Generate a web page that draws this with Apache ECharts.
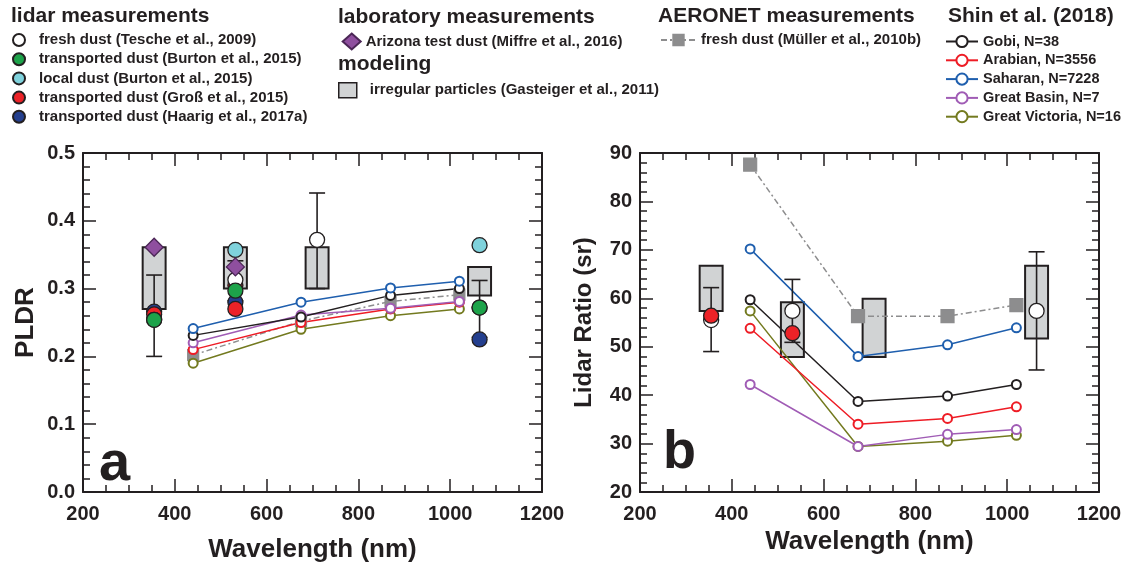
<!DOCTYPE html>
<html>
<head>
<meta charset="utf-8">
<script src="https://cdn.jsdelivr.net/npm/echarts@6/dist/echarts.min.js"></script>
<style>
html,body{margin:0;padding:0;background:#fff;}
#chart{width:1126px;height:565px;}
</style>
</head>
<body>
<div id="chart"></div>
<script>
// ---------------- DATA ----------------
// Shin et al. (2018) AERONET wavelengths
const shinWl = [440, 675, 870, 1020];
// PLDR (panel a)
const gobiPLDR = [0.231, 0.258, 0.290, 0.300];
const arabianPLDR = [0.210, 0.250, 0.270, 0.280];
const saharanPLDR = [0.241, 0.280, 0.301, 0.311];
const greatBasinPLDR = [0.220, 0.261, 0.271, 0.281];
const greatVictoriaPLDR = [0.190, 0.240, 0.260, 0.270];
// Lidar ratio (panel b)
const gobiLR = [59.7, 38.7, 39.8, 42.2];
const arabianLR = [53.8, 34.0, 35.2, 37.6];
const saharanLR = [70.2, 48.0, 50.4, 53.9];
const greatBasinLR = [42.2, 29.4, 31.9, 32.9];
const greatVictoriaLR = [57.4, 29.4, 30.5, 31.7];
// AERONET fresh dust (Müller et al., 2010b)
const muellerWl = [440, 675, 870, 1020];
const muellerPLDR = [0.202, 0.252, 0.281, 0.291];
const muellerLR = [87.6, 56.3, 56.3, 58.6];
// Modeling: irregular particles (Gasteiger et al., 2011) ranges
const gasteigerWl = [355, 532, 710, 1064];
const gasteigerPLDRlow = [0.270, 0.300, 0.300, 0.290];
const gasteigerPLDRhigh = [0.361, 0.361, 0.361, 0.332];
const gasteigerLRlow = [57.4, 47.9, 47.9, 51.7];
const gasteigerLRhigh = [66.7, 59.2, 59.9, 66.7];
// Lidar: fresh dust (Tesche et al., 2009)
const tescheWlA = [355, 532, 710, 1064];
const teschePLDR = [0.254, 0.313, 0.372, 0.272];
const teschePLDRlow = [0.200, 0.282, 0.300, 0.228];
const teschePLDRhigh = [0.320, 0.341, 0.441, 0.312];
const tescheWlB = [355, 532, 1064];
const tescheLR = [55.5, 57.4, 57.4];
const tescheLRlow = [49.0, 50.9, 45.2];
const tescheLRhigh = [62.2, 63.9, 69.6];
// Lidar: transported dust (Burton et al., 2015)
const burtonTrWl = [355, 532, 1064];
const burtonTrPLDR = [0.254, 0.297, 0.272];
// Lidar: local dust (Burton et al., 2015)
const burtonLocWl = [532, 1064];
const burtonLocPLDR = [0.357, 0.364];
// Lidar: transported dust (Groß et al., 2015)
const grossWlA = [355, 532, 532];
const grossPLDR = [0.262, 0.305, 0.270];
const grossWlB = [355, 532];
const grossLR = [56.4, 52.8];
// Lidar: transported dust (Haarig et al., 2017a)
const haarigWl = [355, 532, 1064];
const haarigPLDR = [0.266, 0.280, 0.225];
// Laboratory: Arizona test dust (Miffre et al., 2016)
const miffreWl = [355, 532];
const miffrePLDR = [0.361, 0.332];

// axis tick labels
const xTicks = [200, 400, 600, 800, 1000, 1200];
const pldrTicks = [0.0, 0.1, 0.2, 0.3, 0.4, 0.5];
const lrTicks = [20, 30, 40, 50, 60, 70, 80, 90];

// ---------------- NAMES / COLORS ----------------
const N = {
  tesche: 'fresh dust (Tesche et al., 2009)',
  burtonTr: 'transported dust (Burton et al., 2015)',
  burtonLoc: 'local dust (Burton et al., 2015)',
  gross: 'transported dust (Groß et al., 2015)',
  haarig: 'transported dust (Haarig et al., 2017a)',
  miffre: 'Arizona test dust (Miffre et al., 2016)',
  gasteiger: 'irregular particles (Gasteiger et al., 2011)',
  mueller: 'fresh dust (Müller et al., 2010b)',
  gobi: 'Gobi, N=38',
  arabian: 'Arabian, N=3556',
  saharan: 'Saharan, N=7228',
  basin: 'Great Basin, N=7',
  victoria: 'Great Victoria, N=16'
};
const INK = '#231f20';
const C = {
  green: '#1da34a', teal: '#7fd2dc', red: '#ec2227', navy: '#243f8e', purple: '#8f4f9f',
  box: '#d1d3d4', grey: '#8d8d8e',
  sBlack: '#231f20', sRed: '#ee1c25', sBlue: '#1f5fae', sPurple: '#a05cb5', sOlive: '#737a1f'
};
const FONT = '"Liberation Sans", Arial, Helvetica, sans-serif';

function zip(xs, ys) { return xs.map((x, i) => [x, ys[i]]); }
function zip3(xs, a, b) { return xs.map((x, i) => [x, a[i], b[i]]); }

const BOX_HALF = 25;
function boxRender(params, api) {
  const x = api.value(0), lo = api.value(1), hi = api.value(2);
  const p1 = api.coord([x - BOX_HALF, hi]);
  const p2 = api.coord([x + BOX_HALF, lo]);
  return {
    type: 'rect',
    shape: { x: p1[0], y: p1[1], width: p2[0] - p1[0], height: p2[1] - p1[1] },
    style: { fill: C.box, stroke: INK, lineWidth: 2 }
  };
}
function errRender(params, api) {
  const x = api.value(0), lo = api.value(1), hi = api.value(2);
  const t = api.coord([x, hi]), b = api.coord([x, lo]);
  const w = 8;
  const st = { stroke: INK, lineWidth: 1.6 };
  return {
    type: 'group',
    children: [
      { type: 'line', shape: { x1: t[0], y1: t[1], x2: b[0], y2: b[1] }, style: st },
      { type: 'line', shape: { x1: t[0] - w, y1: t[1], x2: t[0] + w, y2: t[1] }, style: st },
      { type: 'line', shape: { x1: b[0] - w, y1: b[1], x2: b[0] + w, y2: b[1] }, style: st }
    ]
  };
}

// ---------------- AXES ----------------
const tickStyle = { color: INK, width: 1.5 };
function xAx(gi, pos, showLab, name, nameGap) {
  return {
    type: 'value', gridIndex: gi, position: pos, min: 200, max: 1200, interval: 200,
    splitLine: { show: false },
    axisLine: { show: true, onZero: false, lineStyle: { color: INK, width: 2 } },
    axisTick: { show: true, inside: true, length: 13, lineStyle: tickStyle },
    minorTick: { show: true, splitNumber: 4, length: 7, lineStyle: tickStyle },
    axisLabel: {
      show: showLab, margin: 12, color: INK, fontSize: 20, fontWeight: 'bold', fontFamily: FONT,
      showMinLabel: true, showMaxLabel: true,
      formatter: v => xTicks.includes(v) ? String(v) : ''
    },
    name: name || '', nameLocation: 'middle', nameGap: nameGap || 0,
    nameTextStyle: { color: INK, fontSize: 26, fontWeight: 'bold', fontFamily: FONT }
  };
}
function yAx(gi, pos, showLab, min, max, interval, fmt, name, nameGap, nameSize) {
  return {
    type: 'value', gridIndex: gi, position: pos, min: min, max: max, interval: interval,
    splitLine: { show: false },
    axisLine: { show: true, onZero: false, lineStyle: { color: INK, width: 2 } },
    axisTick: { show: true, inside: true, length: 13, lineStyle: tickStyle },
    minorTick: { show: true, splitNumber: 5, length: 7, lineStyle: tickStyle },
    axisLabel: {
      show: showLab, margin: 8, color: INK, fontSize: 20, fontWeight: 'bold', fontFamily: FONT,
      showMinLabel: true, showMaxLabel: true, formatter: fmt
    },
    name: name || '', nameLocation: 'middle', nameGap: nameGap || 0, nameRotate: 90,
    nameTextStyle: { color: INK, fontSize: nameSize || 26, fontWeight: 'bold', fontFamily: FONT }
  };
}

// ---------------- SERIES ----------------
const series = [];
function addBox(gi, name, data) {
  series.push({ type: 'custom', name: name, xAxisIndex: gi * 2, yAxisIndex: gi * 2,
    renderItem: boxRender, data: data, z: 1, itemStyle: { color: C.box, borderColor: INK },
    encode: { x: 0, y: [1, 2] } });
}
function addLine(gi, name, data, color, symbol, size, dash, width) {
  series.push({ type: 'line', name: name, xAxisIndex: gi * 2, yAxisIndex: gi * 2, data: data,
    symbol: symbol, symbolSize: size, showSymbol: true, z: 2,
    lineStyle: { color: color, width: width || 1.5, type: dash || 'solid' },
    itemStyle: { color: color, borderColor: color, borderWidth: 1.2 },
    emphasis: { disabled: true }, animation: false });
}
function addErr(gi, tag, data) {
  series.push({ type: 'custom', name: '_err' + tag, xAxisIndex: gi * 2, yAxisIndex: gi * 2,
    renderItem: errRender, data: data, z: 3, encode: { x: 0, y: [1, 2] } });
}
function addPts(gi, name, data, fill, symbol, size, border) {
  series.push({ type: 'scatter', name: name, xAxisIndex: gi * 2, yAxisIndex: gi * 2, data: data,
    symbol: symbol || 'circle', symbolSize: size || 15, z: 4,
    itemStyle: { color: fill, borderColor: border || INK, borderWidth: 1.3, opacity: 1 },
    emphasis: { disabled: true } });
}
const dashDot = [6, 3, 2, 3];

// Panel a
addBox(0, N.gasteiger, zip3(gasteigerWl, gasteigerPLDRlow, gasteigerPLDRhigh));
addLine(0, N.mueller, zip(muellerWl, muellerPLDR), C.grey, 'rect', 11, dashDot, 1.5);
addLine(0, N.victoria, zip(shinWl, greatVictoriaPLDR), C.sOlive, 'emptyCircle', 9);
addLine(0, N.arabian, zip(shinWl, arabianPLDR), C.sRed, 'emptyCircle', 9);
addLine(0, N.basin, zip(shinWl, greatBasinPLDR), C.sPurple, 'emptyCircle', 9);
addLine(0, N.gobi, zip(shinWl, gobiPLDR), C.sBlack, 'emptyCircle', 9);
addLine(0, N.saharan, zip(shinWl, saharanPLDR), C.sBlue, 'emptyCircle', 9);
addErr(0, 'a', zip3(tescheWlA, teschePLDRlow, teschePLDRhigh));
addPts(0, N.haarig, zip(haarigWl, haarigPLDR), C.navy);
addPts(0, N.gross, zip(grossWlA, grossPLDR), C.red);
addPts(0, N.tesche, zip(tescheWlA, teschePLDR), '#ffffff');
addPts(0, N.burtonTr, zip(burtonTrWl, burtonTrPLDR), C.green);
addPts(0, N.burtonLoc, zip(burtonLocWl, burtonLocPLDR), C.teal);
addPts(0, N.miffre, zip(miffreWl, miffrePLDR), C.purple, 'diamond', 18, '#4b2656');

// Panel b
addBox(1, N.gasteiger, zip3(gasteigerWl, gasteigerLRlow, gasteigerLRhigh));
addLine(1, N.mueller, zip(muellerWl, muellerLR), C.grey, 'rect', 13, dashDot, 1.5);
addLine(1, N.victoria, zip(shinWl, greatVictoriaLR), C.sOlive, 'emptyCircle', 9);
addLine(1, N.arabian, zip(shinWl, arabianLR), C.sRed, 'emptyCircle', 9);
addLine(1, N.basin, zip(shinWl, greatBasinLR), C.sPurple, 'emptyCircle', 9);
addLine(1, N.gobi, zip(shinWl, gobiLR), C.sBlack, 'emptyCircle', 9);
addLine(1, N.saharan, zip(shinWl, saharanLR), C.sBlue, 'emptyCircle', 9);
addErr(1, 'b', zip3(tescheWlB, tescheLRlow, tescheLRhigh));
addPts(1, N.tesche, zip(tescheWlB, tescheLR), '#ffffff');
addPts(1, N.gross, zip(grossWlB, grossLR), C.red);

// ---------------- LEGENDS ----------------
const legText = { color: INK, fontSize: 15, fontWeight: 'bold', fontFamily: FONT, lineHeight: 15 };
function leg(left, top, data, iw, ih, gap, pad, fs) {
  return {
    show: true, orient: 'vertical', left: left, top: top, itemGap: gap, itemWidth: iw, itemHeight: ih,
    padding: 0, selectedMode: false, data: data,
    textStyle: Object.assign({}, legText, { padding: [0, 0, 0, pad || 0] }, fs ? { fontSize: fs } : {})
  };
}
const legends = [
  leg(12, 32.5, [N.tesche, N.burtonTr, N.burtonLoc, N.gross, N.haarig], 12, 12, 4.2, 9),
  leg(341.7, 32.5, [N.miffre], 18, 16, 4, 0),
  leg(338, 82, [{ name: N.gasteiger, icon: 'rect', itemStyle: { color: C.box, borderColor: INK, borderWidth: 1.5 } }], 18, 15, 4, 8),
  leg(660, 32.5, [N.mueller], 35, 13, 4, 0),
  leg(945, 34, [N.gobi, N.arabian, N.saharan, N.basin, N.victoria], 32, 14, 3.8, 0, 14.5)
];

function heading(text, left, cy) {
  return { type: 'text', left: left, top: cy - 11,
    style: { text: text, font: 'bold 21px ' + FONT, fill: INK } };
}

const option = {
  backgroundColor: '#ffffff',
  animation: false,
  textStyle: { fontFamily: FONT },
  grid: [
    { left: 83, top: 153, width: 459, height: 339, containLabel: false, outerBoundsMode: 'none' },
    { left: 640, top: 153, width: 459, height: 339, containLabel: false, outerBoundsMode: 'none' }
  ],
  xAxis: [
    xAx(0, 'bottom', true, 'Wavelength (nm)', 45),
    xAx(0, 'top', false),
    xAx(1, 'bottom', true, 'Wavelength (nm)', 31),
    xAx(1, 'top', false)
  ],
  yAxis: [
    yAx(0, 'left', true, 0, 0.5, 0.1, v => v.toFixed(1), 'PLDR', 44, 26),
    yAx(0, 'right', false, 0, 0.5, 0.1),
    yAx(1, 'left', true, 20, 90, 10, v => String(Math.round(v)), 'Lidar Ratio (sr)', 44, 24),
    yAx(1, 'right', false, 20, 90, 10)
  ],
  legend: legends,
  graphic: [
    heading('lidar measurements', 11, 17),
    heading('laboratory measurements', 338, 18),
    heading('modeling', 338, 65),
    heading('AERONET measurements', 658, 17),
    heading('Shin et al. (2018)', 948, 17),
    { type: 'text', left: 99, top: 437, style: { text: 'a', font: 'bold 56px ' + FONT, fill: INK } },
    { type: 'text', left: 663, top: 426, style: { text: 'b', font: 'bold 54px ' + FONT, fill: INK } }
  ],
  series: series
};

const chart = echarts.init(document.getElementById('chart'), null, { renderer: 'canvas' });
chart.setOption(option);
</script>
</body>
</html>
